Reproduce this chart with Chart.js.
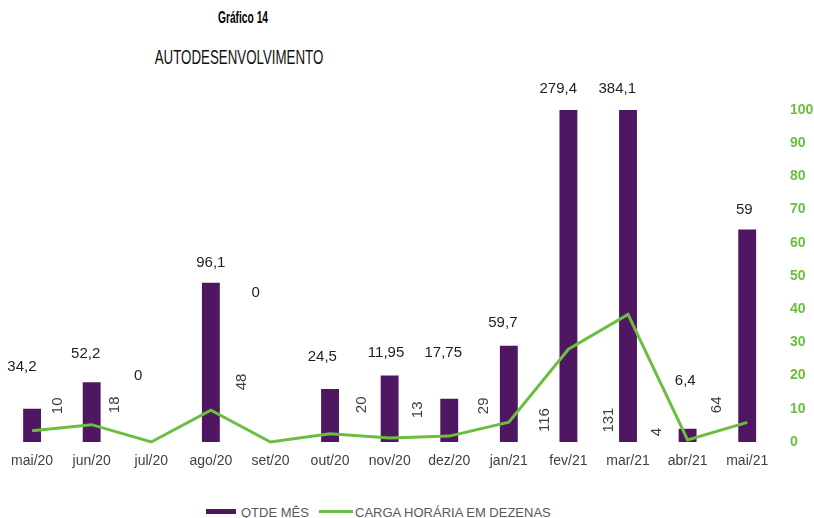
<!DOCTYPE html>
<html lang="pt-BR">
<head>
<meta charset="utf-8">
<title>Gráfico 14 - Autodesenvolvimento</title>
<script src="https://cdn.jsdelivr.net/npm/chart.js@4.4.0/dist/chart.umd.min.js"></script>
<style>
    html, body { margin: 0; padding: 0; background: #fff; }
    body { width: 814px; height: 518px; position: relative; overflow: hidden; font-family: 'Liberation Sans', Arial, sans-serif; }
    .graf-num { position: absolute; left: 143px; width: 200px; top: 10px; text-align: center; font-weight: bold; font-size: 16px; line-height: 16px; color: #000; transform: scaleX(0.64); }
    .titulo { position: absolute; left: 39px; width: 400px; top: 47px; text-align: center; font-size: 20px; line-height: 20px; color: #111; transform: scaleX(0.665); }
    #chartBox { position: absolute; left: 0; top: 70px; width: 814px; height: 404px; }
    .leg { position: absolute; font-size: 13px; line-height: 13px; color: #595959; white-space: nowrap; }
    .leg-sw { position: absolute; }
</style>
</head>
<body>
<div class="graf-num">Gráfico 14</div>
<div class="titulo">AUTODESENVOLVIMENTO</div>
<div id="chartBox"><canvas id="grafico"></canvas></div>

<div class="leg-sw" style="left:206px; top:509px; width:30px; height:5px; background:#4F1762;"></div>
<div class="leg" style="left:241px; top:506px;">QTDE MÊS</div>
<div class="leg-sw" style="left:319px; top:510px; width:34px; height:3px; background:#6CBE3E;"></div>
<div class="leg" style="left:355px; top:506px;">CARGA HORÁRIA EM DEZENAS</div>

<script>
const meses = ['mai/20', 'jun/20', 'jul/20', 'ago/20', 'set/20', 'out/20', 'nov/20', 'dez/20', 'jan/21', 'fev/21', 'mar/21', 'abr/21', 'mai/21'];
const qtdeMes = [10, 18, 0, 48, 0, 16, 20, 13, 29, 116, 131, 4, 64];
const cargaDezenas = [3.42, 5.22, 0, 9.61, 0, 2.45, 1.195, 1.775, 5.97, 27.94, 38.41, 0.64, 5.9];

// textos dos rotulos como aparecem no grafico
const horasTexto = ['34,2', '52,2', '0', '96,1', '0', '24,5', '11,95', '17,75', '59,7', '279,4', '384,1', '6,4', '59'];
const qtdeTexto = ['10', '18', '', '48', '', '20', '13', '29', '116', '131', '4', '64', ''];

// onde cada rotulo fica: [desvio em larguras de categoria, altura no eixo]
const horasPos = [[-0.17, 22.7], [-0.1, 26.6], [-0.22, 19.9], [0, 54.1], [-0.25, 45], [-0.13, 25.7], [-0.06, 26.9], [-0.1, 26.9], [-0.1, 36], [-0.17, 106.3], [-0.18, 106.3], [-0.04, 18.4], [-0.05, 69.8]];
const qtdePos = [[0.44, 10.9], [0.39, 11.2], [0, 0], [0.52, 18.1], [0, 0], [0.54, 11.2], [0.48, 9.7], [0.58, 10.9], [0.61, 6.6], [0.68, 6.6], [0.49, 3.0], [0.49, 11.2], [0, 0]];

const ROXO = '#4F1762';
const VERDE = '#6CBE3E';
const FONTE = '"Liberation Sans", Arial, sans-serif';

Chart.defaults.font.family = FONTE;

const rotulos = {
    id: 'rotulos',
    afterDatasetsDraw(chart) {
        const { ctx, scales: { x, y } } = chart;
        const passo = x.width / meses.length;
        ctx.save();
        ctx.textAlign = 'center';
        ctx.textBaseline = 'middle';
        ctx.font = '15px ' + FONTE;
        ctx.fillStyle = '#1f1f1f';
        horasTexto.forEach((t, i) => {
            const [dx, v] = horasPos[i];
            ctx.fillText(t, x.getPixelForValue(i) + dx * passo, y.getPixelForValue(v));
        });
        ctx.fillStyle = '#404040';
        qtdeTexto.forEach((t, i) => {
            if (!t) return;
            const [dx, v] = qtdePos[i];
            ctx.save();
            ctx.translate(x.getPixelForValue(i) + dx * passo, y.getPixelForValue(v));
            ctx.rotate(-Math.PI / 2);
            ctx.fillText(t, 0, 0);
            ctx.restore();
        });
        ctx.restore();
    }
};

new Chart(document.getElementById('grafico'), {
    type: 'bar',
    data: {
        labels: meses,
        datasets: [
            {
                type: 'line',
                label: 'CARGA HORÁRIA EM DEZENAS',
                data: cargaDezenas,
                borderColor: VERDE,
                borderWidth: 3,
                pointRadius: 0,
                tension: 0,
                fill: false,
                clip: 5,
                order: 1
            },
            {
                type: 'bar',
                label: 'QTDE MÊS',
                data: qtdeMes,
                backgroundColor: ROXO,
                barPercentage: 0.3,
                categoryPercentage: 1,
                order: 2
            }
        ]
    },
    options: {
        responsive: true,
        maintainAspectRatio: false,
        animation: false,
        layout: { padding: { left: 2, right: 0, top: 40, bottom: 0 } },
        plugins: { legend: { display: false }, tooltip: { enabled: false } },
        scales: {
            x: {
                grid: { display: false, drawTicks: false },
                border: { display: false },
                ticks: { color: '#404040', font: { size: 14 }, padding: 11, maxRotation: 0, autoSkip: false },
                afterFit(s) { s.height = 32; }
            },
            y: {
                position: 'right',
                min: 0,
                max: 100,
                grid: { display: false, drawTicks: false },
                border: { display: false },
                ticks: { stepSize: 10, color: VERDE, font: { size: 14, weight: 'bold' }, padding: 13 },
                afterFit(s) { s.width = 37; }
            }
        }
    },
    plugins: [rotulos]
});
</script>
</body>
</html>
